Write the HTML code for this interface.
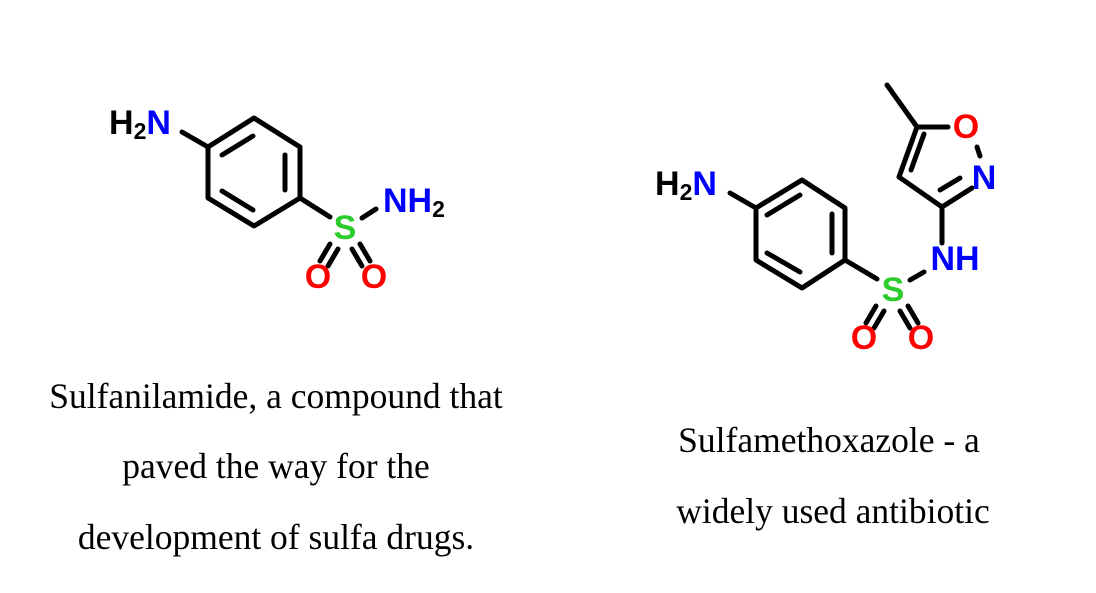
<!DOCTYPE html>
<html><head><style>html,body{margin:0;padding:0;background:#fff;}svg{display:block}</style></head>
<body>
<svg width="1096" height="593" viewBox="0 0 1096 593" xmlns="http://www.w3.org/2000/svg">
<g stroke="#000" stroke-width="5" stroke-linecap="round" fill="none">
<polygon points="254,118 300,147 300,198 254,226 208,198 208,147" stroke-linejoin="round"/>
<line x1="222" y1="155" x2="253" y2="136"/>
<line x1="285" y1="155" x2="285" y2="190"/>
<line x1="222" y1="191" x2="253" y2="210"/>
<line x1="208" y1="147" x2="182" y2="132"/>
<line x1="300" y1="198" x2="330" y2="217"/>
<line x1="362" y1="218" x2="376" y2="209"/>
<line x1="330" y1="244" x2="320" y2="261"/><line x1="338" y1="249" x2="328" y2="266"/>
<line x1="352" y1="249" x2="362" y2="266"/><line x1="360" y1="244" x2="370" y2="261"/>
<polygon points="802,180 845,208 845,260 802,288 756,260 756,208" stroke-linejoin="round"/>
<line x1="767" y1="215" x2="800" y2="195"/>
<line x1="832" y1="214" x2="832" y2="253"/>
<line x1="767" y1="253" x2="800" y2="272"/>
<line x1="756" y1="208" x2="730" y2="193"/>
<line x1="845" y1="260" x2="877" y2="279"/>
<line x1="910" y1="280" x2="924" y2="272"/>
<line x1="942" y1="243" x2="942" y2="207"/>
<line x1="942" y1="207" x2="899" y2="177"/>
<line x1="899" y1="177" x2="917" y2="127"/>
<line x1="911" y1="170" x2="924" y2="134"/>
<line x1="917" y1="127" x2="948" y2="127"/>
<line x1="917" y1="127" x2="887" y2="85"/>
<line x1="942" y1="207" x2="972" y2="188"/>
<line x1="940" y1="190" x2="960" y2="178"/>
<line x1="977" y1="147" x2="980" y2="156"/>
<line x1="876" y1="306" x2="866" y2="323"/><line x1="884" y1="311" x2="874" y2="328"/>
<line x1="900" y1="311" x2="910" y2="328"/><line x1="908" y1="306" x2="918" y2="323"/>
</g>
<g font-family="Liberation Sans, sans-serif" font-weight="bold" font-size="34" dominant-baseline="central">
<text x="109" y="123" fill="#000">H<tspan font-size="23" dy="8">2</tspan><tspan dy="-8" fill="#0000ff">N</tspan></text>
<text x="383" y="201" fill="#0000ff">NH<tspan font-size="23" dy="8" fill="#000">2</tspan></text>
<text x="655" y="184" fill="#000">H<tspan font-size="23" dy="8">2</tspan><tspan dy="-8" fill="#0000ff">N</tspan></text>
<g text-anchor="middle">
<text x="345" y="228" fill="#2bcc2b">S</text>
<text x="318" y="277" fill="#ff0000">O</text><text x="374" y="277" fill="#ff0000">O</text>
<text x="893" y="290" fill="#2bcc2b">S</text>
<text x="955" y="259" fill="#0000ff">NH</text>
<text x="984" y="178" fill="#0000ff">N</text>
<text x="966" y="127" fill="#ff0000">O</text>
<text x="864" y="338" fill="#ff0000">O</text><text x="921" y="338" fill="#ff0000">O</text>
</g>
</g>
<g font-family="Liberation Serif, serif" font-size="35.5" fill="#000" text-anchor="middle">
<text x="276" y="408">Sulfanilamide, a compound that</text>
<text x="276" y="478">paved the way for the</text>
<text x="276" y="549">development of sulfa drugs.</text>
<text x="829" y="452">Sulfamethoxazole - a</text>
<text x="833" y="523">widely used antibiotic</text>
</g>
</svg>
</body></html>
